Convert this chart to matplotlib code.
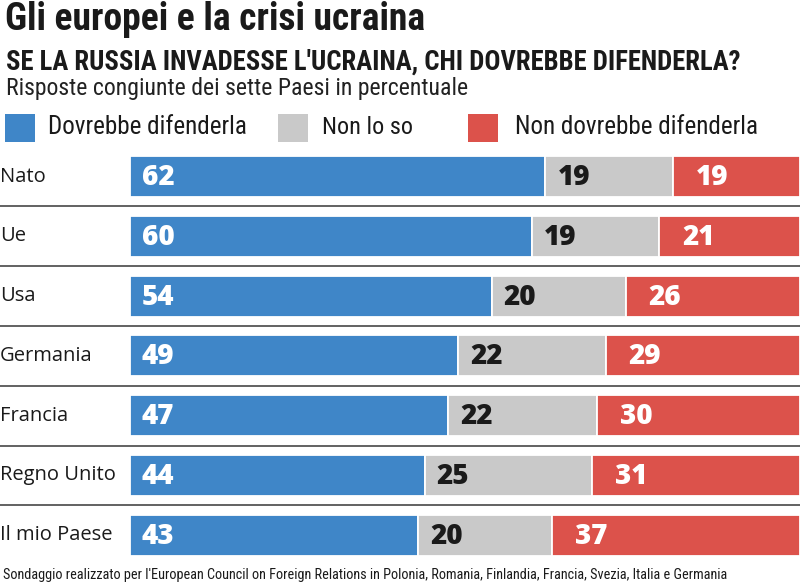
import os
import matplotlib
matplotlib.use("Agg")
import matplotlib.pyplot as plt
from matplotlib.patches import Rectangle
import matplotlib.transforms as mtransforms
from matplotlib import font_manager as fm

categories = ["Nato", "Ue", "Usa", "Germania", "Francia", "Regno Unito", "Il mio Paese"]
dovrebbe = [62, 60, 54, 49, 47, 44, 43]
non_lo_so = [19, 19, 20, 22, 22, 25, 20]
non_dovrebbe = [19, 21, 26, 29, 30, 31, 37]
series_names = ["Dovrebbe difenderla", "Non lo so", "Non dovrebbe difenderla"]

title = "Gli europei e la crisi ucraina"
subtitle = "SE LA RUSSIA INVADESSE L'UCRAINA, CHI DOVREBBE DIFENDERLA?"
subsub = "Risposte congiunte dei sette Paesi in percentuale"
footer = ("Sondaggio realizzato per l'European Council on Foreign Relations in Polonia, "
          "Romania, Finlandia, Francia, Svezia, Italia e Germania")

BLUE = "#3f86c8"
GRAY = "#c9c9c9"
RED = "#dc524b"
TXT = "#1a1a1a"


# ---- font selection by file (deterministic) ----
def _w(f):
    try:
        return int(f.weight)
    except (TypeError, ValueError):
        return {"bold": 700, "normal": 400, "regular": 400}.get(str(f.weight), 400)


def _key(f):
    return os.path.basename(f.fname).lower().replace(" ", "").replace("_", "").replace("-", "")


def pick(test, target):
    best = None
    for f in fm.fontManager.ttflist:
        p = _key(f)
        if "italic" in p or "oblique" in p or str(f.style) != "normal":
            continue
        if not test(p):
            continue
        cand = (abs(_w(f) - target), p, f.fname)
        if best is None or cand < best:
            best = cand
    return best[2] if best else None


def cond_prop(target, fallback_weight):
    prefs = ["robotocondensed", "liberationsansnarrow", "opensanscondensed",
             "notosanscondensed", "dejavusanscondensed"]
    for pr in prefs:
        fn = pick(lambda p, pr=pr: p.startswith(pr), target)
        if fn:
            return fm.FontProperties(fname=fn)
    return fm.FontProperties(family="Roboto", weight=fallback_weight)


bold_prop = cond_prop(700, "bold")
reg_prop = cond_prop(400, "normal")

_os_reg = pick(lambda p: p.startswith("opensans") and "condensed" not in p, 400)
_os_xb = pick(lambda p: p.startswith("opensans") and "condensed" not in p, 800)
label_prop = fm.FontProperties(fname=_os_reg) if _os_reg else fm.FontProperties(family="Open Sans")
num_prop = fm.FontProperties(fname=_os_xb) if _os_xb else \
    fm.FontProperties(family="Open Sans", weight="heavy")

W, H = 800, 586
fig = plt.figure(figsize=(W / 100, H / 100), dpi=100)
fig.patch.set_facecolor("white")
renderer = fig.canvas.get_renderer()


def fx(px):
    return px / W


def fy(py):
    return 1 - py / H


def fit_text(x_px, y_px, s, width_px, size, bold=False, **kw):
    fp = (bold_prop if bold else reg_prop).copy()
    fp.set_size(size)
    t = fig.text(fx(x_px), fy(y_px), s, ha="left", va="center", fontproperties=fp, **kw)
    for _ in range(3):
        w = t.get_window_extent(renderer).width
        if w > 0:
            t.set_fontsize(t.get_fontsize() * width_px / w)
    return t


row_h = 59.8
top = 176.5 - row_h / 2
n = len(categories)
ax = fig.add_axes([fx(130), fy(top + n * row_h), fx(800) - fx(130), (n * row_h) / H])
ax.set_xlim(0, 100)
ax.set_ylim(n - 0.5, -0.5)
ax.axis("off")

totals = [a + b + c for a, b, c in zip(dovrebbe, non_lo_so, non_dovrebbe)]
bh = 41 / row_h
ys = list(range(n))
colors = [BLUE, GRAY, RED]
lefts = [0.0] * n
for k, (vals, col) in enumerate(zip([dovrebbe, non_lo_so, non_dovrebbe], colors)):
    widths = [v / t * 100 for v, t in zip(vals, totals)]
    ax.barh(ys, widths, left=lefts, height=bh, color=col, edgecolor="white", linewidth=1.3)
    for i, v in enumerate(vals):
        tc = TXT if k == 1 else "white"
        off = 23 if k == 2 else 12
        fp = num_prop.copy()
        fp.set_size(20)
        ax.annotate(str(v), xy=(lefts[i], i), xytext=(off, -1), textcoords="offset pixels",
                    ha="left", va="center", fontproperties=fp, color=tc)
    lefts = [a + b for a, b in zip(lefts, widths)]

# separators
trans = mtransforms.blended_transform_factory(fig.transFigure, ax.transData)
for i in range(n - 1):
    ax.plot([0, 1], [i + 0.5, i + 0.5], transform=trans, color="#555555", lw=1.3,
            clip_on=False, solid_capstyle="butt")

# category labels
for i, c in enumerate(categories):
    fp = label_prop.copy()
    fp.set_size(14.5)
    fig.text(0.0, i + 0.0, c, transform=trans, ha="left", va="center",
             fontproperties=fp, color=TXT)

# titles
fit_text(5, 19, title, 420, 22, bold=True, color=TXT)
fit_text(6, 62, subtitle, 736, 16, bold=True, color=TXT)
fit_text(6, 89, subsub, 462, 14, color="#222222")

# legend
leg_sq = [(5, BLUE), (278, GRAY), (468, RED)]
leg_tx = [(48, 199), (322, 91), (515, 243)]
for (sx, col), (tx, tw), name in zip(leg_sq, leg_tx, series_names):
    fig.patches.append(Rectangle((fx(sx), fy(142)), 30 / W, 28 / H, transform=fig.transFigure,
                                 facecolor=col, edgecolor="none"))
    fit_text(tx, 127, name, tw, 15, color=TXT)

fit_text(3, 575, footer, 724, 9.5, color=TXT)

fig.savefig("out.png", dpi=100, facecolor="white")
